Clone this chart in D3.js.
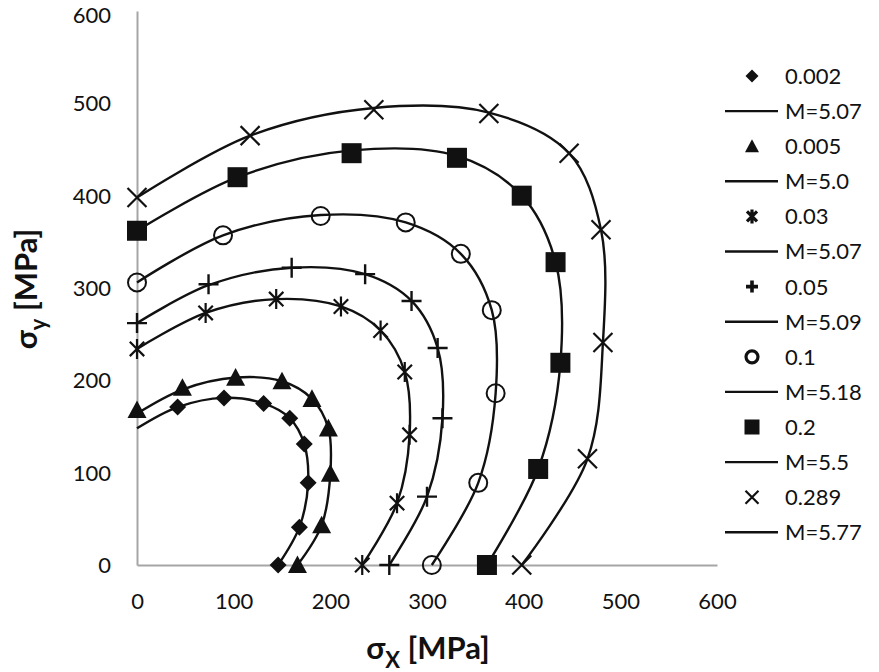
<!DOCTYPE html>
<html>
<head>
<meta charset="utf-8">
<script src="https://cdn.jsdelivr.net/npm/d3@7"></script>
<style>
  html, body { margin: 0; padding: 0; background: #fff; }
  svg { display: block; }
  text { font-family: Lato, "Open Sans", sans-serif; fill: #111; }
</style>
</head>
<body>
<svg id="chart" width="879" height="672"></svg>
<script>
// ---- data ----
const seriesNames = ["0.002", "0.005", "0.03", "0.05", "0.1", "0.2", "0.289"];
const modelNames  = ["M=5.07", "M=5.0", "M=5.07", "M=5.09", "M=5.18", "M=5.5", "M=5.77"];
const markerShapes = ["diamond", "triangle", "asterisk", "plus", "circle", "square", "cross"];

// measured points (sigma_x, sigma_y) in MPa
const pts002 = [[146,0],[168,41],[177,89],[173,131],[158,159],[131,175],[90,181],[42,171]];
const pts005 = [[0,168],[47,192],[102,203],[150,199],[181,180],[198,148],[200,99],[191,43],[166,0]];
const pts03  = [[0,234],[71,273],[144,288],[211,280],[252,254],[277,209],[282,141],[269,67],[233,0]];
const pts05  = [[0,262],[74,304],[160,322],[236,315],[284,286],[311,235],[316,159],[300,74],[261,0]];
const pts1   = [[0,306],[89,357],[190,378],[278,371],[335,337],[367,276],[371,186],[353,89],[305,0]];
const pts2   = [[0,362],[104,420],[222,446],[331,441],[398,400],[433,328],[438,219],[415,104],[362,0]];
const pts289 = [[0,398],[117,465],[245,493],[364,489],[447,446],[480,363],[482,241],[466,115],[398,0]];

// fitted yield-locus curves
const line002 = [[0,148],[42,171],[90,181],[131,175],[158,159],[173,131],[177,89],[168,41],[146,0]];
const line005 = [[0,164],[47,190],[102,203],[150,199],[181,180],[198,148],[200,99],[191,43],[166,0]];
const line03  = [[0,234],[71,273],[144,288],[211,280],[252,254],[277,209],[282,141],[269,67],[233,0]];
const line05  = [[0,262],[74,303],[160,322],[236,315],[284,286],[311,235],[316,159],[300,74],[261,0]];
const line1   = [[0,306],[89,357],[190,379],[278,371],[335,337],[367,276],[371,186],[353,89],[305,0]];
const line2   = [[0,362],[104,420],[222,449],[331,443],[398,400],[433,328],[438,219],[415,104],[362,0]];
const line289 = [[0,398],[117,465],[245,495],[364,490],[447,446],[480,363],[482,241],[466,115],[398,0]];

const xTicks = [0, 100, 200, 300, 400, 500, 600];
const yTicks = [0, 100, 200, 300, 400, 500, 600];

const allPts = [pts002, pts005, pts03, pts05, pts1, pts2, pts289];
const allLines = [line002, line005, line03, line05, line1, line2, line289];

// ---- drawing ----
const svg = d3.select("#chart");
const x = d3.scaleLinear().domain([0, 600]).range([137, 717]);
const y = d3.scaleLinear().domain([0, 600]).range([565, 11]);

// axes
const xAxis = d3.axisBottom(x).tickValues(xTicks).tickSize(0).tickPadding(28);
const yAxis = d3.axisLeft(y).tickValues(yTicks).tickSize(0).tickPadding(26);

const gx = svg.append("g").attr("transform", `translate(0,${y(0)})`).call(xAxis);
const gy = svg.append("g").attr("transform", `translate(${x(0)},0)`).call(yAxis);
[gx, gy].forEach(g => {
  g.select(".domain").attr("stroke", "#a6a6a6").attr("stroke-width", 2);
  g.selectAll("text").attr("font-family", "Lato, sans-serif").attr("font-size", 22).attr("fill", "#111");
});
gx.selectAll("text").attr("dy", "0.71em");
gy.selectAll("text").attr("dy", d => d === 600 ? "0.5em" : "0.34em");

// lines
const lineGen = d3.line().x(d => x(d[0])).y(d => y(d[1])).curve(d3.curveCatmullRom.alpha(0.5));
svg.append("g").selectAll("path").data(allLines).join("path")
  .attr("d", lineGen).attr("fill", "none").attr("stroke", "#111").attr("stroke-width", 2.4);

// marker drawing
function drawMarker(g, shape, cx, cy, s, legend) {
  const k = s / 2;
  if (shape === "diamond") {
    g.append("path").attr("d", `M${cx},${cy-k}L${cx+k},${cy}L${cx},${cy+k}L${cx-k},${cy}Z`).attr("fill", "#111");
  } else if (shape === "triangle") {
    g.append("path").attr("d", `M${cx},${cy-k}L${cx+k},${cy+k*0.85}L${cx-k},${cy+k*0.85}Z`).attr("fill", "#111");
  } else if (shape === "square") {
    g.append("rect").attr("x", cx-k).attr("y", cy-k).attr("width", s).attr("height", s).attr("fill", "#111");
  } else if (shape === "circle") {
    g.append("circle").attr("cx", cx).attr("cy", cy).attr("r", k).attr("fill", "none")
      .attr("stroke", "#111").attr("stroke-width", legend ? 3.2 : 2);
  } else if (shape === "cross") {
    g.append("path").attr("d", `M${cx-k},${cy-k}L${cx+k},${cy+k}M${cx-k},${cy+k}L${cx+k},${cy-k}`)
      .attr("stroke", "#111").attr("stroke-width", 2.2).attr("fill", "none");
  } else if (shape === "plus") {
    g.append("path").attr("d", `M${cx-k},${cy}L${cx+k},${cy}M${cx},${cy-k}L${cx},${cy+k}`)
      .attr("stroke", "#111").attr("stroke-width", legend ? 3.6 : 2.4).attr("fill", "none");
  } else if (shape === "asterisk") {
    const d = k * 0.72;
    g.append("path").attr("d", `M${cx-d},${cy-d}L${cx+d},${cy+d}M${cx-d},${cy+d}L${cx+d},${cy-d}M${cx},${cy-k}L${cx},${cy+k}`)
      .attr("stroke", "#111").attr("stroke-width", legend ? 3.2 : 2.2).attr("fill", "none");
  }
}

const markerSize = { diamond: 17, triangle: 19, asterisk: 20, plus: 20, circle: 18, square: 20, cross: 19 };
const legendSize = { diamond: 13, triangle: 14, asterisk: 14, plus: 12, circle: 12, square: 15, cross: 13 };

const gm = svg.append("g");
allPts.forEach((pts, i) => {
  pts.forEach(p => drawMarker(gm, markerShapes[i], x(p[0]), y(p[1]), markerSize[markerShapes[i]], false));
});

// legend
const lg = svg.append("g");
const rowY = i => 76 + 35.1 * i;
seriesNames.forEach((nm, i) => {
  const y1 = rowY(2 * i), y2 = rowY(2 * i + 1);
  drawMarker(lg, markerShapes[i], 752, y1, legendSize[markerShapes[i]], true);
  lg.append("text").attr("x", 785).attr("y", y1).attr("dy", "0.36em").attr("font-size", 22).text(nm);
  lg.append("line").attr("x1", 725).attr("x2", 778).attr("y1", y2).attr("y2", y2)
    .attr("stroke", "#111").attr("stroke-width", 2.4);
  lg.append("text").attr("x", 785).attr("y", y2).attr("dy", "0.36em").attr("font-size", 22).text(modelNames[i]);
});

// axis titles
const xt = svg.append("text").attr("x", 428).attr("y", 659).attr("text-anchor", "middle")
  .attr("font-size", 31).attr("font-weight", "bold");
xt.append("tspan").text("σ");
xt.append("tspan").attr("font-size", 22).attr("dy", 9).text("X");
xt.append("tspan").attr("dy", -9).text(" [MPa]");

const yt = svg.append("text").attr("transform", "translate(37,289) rotate(-90)").attr("text-anchor", "middle")
  .attr("font-size", 31).attr("font-weight", "bold");
yt.append("tspan").text("σ");
yt.append("tspan").attr("font-size", 22).attr("dy", 9).text("y");
yt.append("tspan").attr("dy", -9).text(" [MPa]");
</script>
</body>
</html>
